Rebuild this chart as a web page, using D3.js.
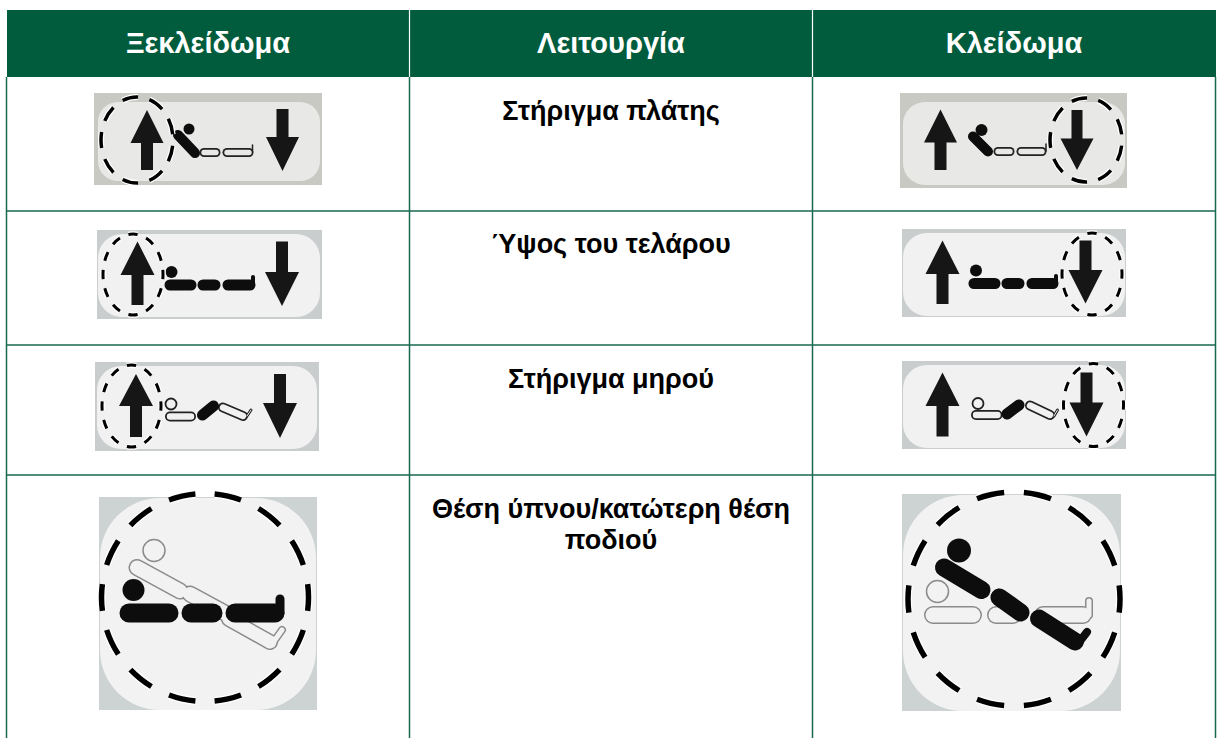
<!DOCTYPE html>
<html>
<head>
<meta charset="utf-8">
<script src="https://cdn.jsdelivr.net/npm/d3@7"></script>
<style>
    html, body { margin: 0; padding: 0; background: #fff; }
    svg { display: block; }
    text { font-family: "Liberation Sans", Arial, sans-serif; font-weight: bold; }
</style>
</head>
<body>
<div id="visualization"></div>
<script>
// table text
var headers = ["Ξεκλείδωμα", "Λειτουργία", "Κλείδωμα"];
var functionLines = [
    ["Στήριγμα πλάτης"],
    ["Ύψος του τελάρου"],
    ["Στήριγμα μηρού"],
    ["Θέση ύπνου/κατώτερη θέση", "ποδιού"]
];

var width = 1219, height = 738;
var green = "#005c3c", rule = "#17694f";
var rowEdges = [77, 211, 345, 475, 738];
var baselines = [120, 253, 388, 518];

var x = d3.scaleBand().domain(headers).range([6.5, 1215.5]);

var svg = d3.select("#visualization").append("svg")
    .attr("width", width)
    .attr("height", height);

// icons are a bit soft in the original scan
svg.append("defs").append("filter")
    .attr("id", "soft")
  .append("feGaussianBlur")
    .attr("stdDeviation", 0.45);

// header band
svg.append("rect")
    .attr("x", 7).attr("y", 10)
    .attr("width", 1209).attr("height", 67)
    .attr("fill", green);

svg.selectAll(".headsep")
    .data(headers.slice(1))
  .enter().append("line")
    .attr("x1", function(d) { return x(d); })
    .attr("x2", function(d) { return x(d); })
    .attr("y1", 10).attr("y2", 77)
    .attr("stroke", "#fff")
    .attr("stroke-width", 1.2);

svg.selectAll(".headtext")
    .data(headers)
  .enter().append("text")
    .attr("x", function(d) { return x(d) + x.bandwidth() / 2; })
    .attr("y", 53)
    .attr("text-anchor", "middle")
    .attr("font-size", 29)
    .attr("fill", "#fff")
    .text(function(d) { return d; });

// grid
var verticals = headers.map(function(d) { return x(d); }).concat([x.range()[1]]);
svg.selectAll(".vrule")
    .data(verticals)
  .enter().append("line")
    .attr("x1", function(d) { return d; })
    .attr("x2", function(d) { return d; })
    .attr("y1", 77).attr("y2", height)
    .attr("stroke", rule)
    .attr("stroke-width", 1.5);

svg.selectAll(".hrule")
    .data(rowEdges.slice(1, 4))
  .enter().append("line")
    .attr("x1", 6).attr("x2", 1216)
    .attr("y1", function(d) { return d; })
    .attr("y2", function(d) { return d; })
    .attr("stroke", rule)
    .attr("stroke-width", 1.5);

// middle column labels
functionLines.forEach(function(lines, i) {
    svg.selectAll(".label" + i)
        .data(lines)
      .enter().append("text")
        .attr("x", x(headers[1]) + x.bandwidth() / 2)
        .attr("y", function(d, j) { return baselines[i] + j * 31; })
        .attr("text-anchor", "middle")
        .attr("font-size", 27)
        .attr("fill", "#000")
        .text(function(d) { return d; });
});

// one bed pictogram per spec
var wideIcons = [
    {box: [94, 93, 228, 92], inner: [98, 102, 222, 79, 20], back: "#c9c9c3", face: "#e8e8e6", on: 0.58,
     ring: [137, 140, 36, 43, 9, 0.5, 3.5], up: [147, 110, 143, 170, 6], down: [282.5, 109, 137, 171, 6],
     arrowHalf: 16.5, head: [189, 129, 5.5, 1],
     bed: [[[[178, 135], [195, 153]], 10, 1], [[[204, 152.5], [216, 152.5]], 9, 0], [[[227, 152.5], [249, 152.5]], 9, 0], [[[252.5, 152], [252.5, 145]], 1.5, 2]]},
    {box: [97, 230, 225, 89], inner: [98, 234, 222, 83, 24], back: "#c9cdcd", face: "#f1f1f1", on: 0.5,
     ring: [133, 274.5, 30, 40.5, 12, 0, 3], up: [137.5, 241.5, 275, 305, 6], down: [282, 241.5, 272, 306, 6],
     arrowHalf: 17, head: [171.5, 272, 6, 1],
     bed: [[[[170, 285], [191, 285]], 11, 1], [[[203, 285], [215, 285]], 11, 1], [[[228, 285], [250, 285]], 11, 1], [[[253, 285], [253, 277]], 4, 1]]},
    {box: [95, 362, 224, 89], inner: [97, 366, 220, 83, 24], back: "#c9cdcd", face: "#f1f1f1", on: 0.5,
     ring: [131.5, 406, 29.5, 41, 12, 0, 3], up: [136, 374, 406, 437, 6], down: [280, 374, 403, 438, 6],
     arrowHalf: 17, head: [171, 404, 5.5, 0],
     bed: [[[[170, 416.5], [191, 416.5]], 10, 0], [[[202.5, 415], [213.5, 406]], 11, 1], [[[223, 407.5], [243, 416]], 10, 0], [[[247, 416], [251, 410]], 3, 0]]},
    {box: [900, 93, 227, 95], inner: [903, 102, 222, 83, 22], back: "#c9c9c3", face: "#e8e8e6", on: 0.58,
     ring: [1086, 140, 36, 42, 9, 0.5, 3.5], up: [940.5, 109.5, 142.5, 170, 6], down: [1077, 110, 138.5, 170, 5.5],
     arrowHalf: 16.5, head: [981.5, 130, 6, 1],
     bed: [[[[973, 136.5], [988, 151.5]], 10, 1], [[[998, 151.5], [1010, 151.5]], 9, 0], [[[1021, 151.5], [1042, 151.5]], 9, 0], [[[1046, 151], [1046, 144]], 1.5, 2]]},
    {box: [902, 229, 224, 88], inner: [903, 233, 222, 83, 24], back: "#c9cdcd", face: "#f1f1f1", on: 0.5,
     ring: [1092, 274, 30, 41, 12, 0, 3], up: [942.5, 240.5, 274, 304, 6], down: [1085.5, 240.5, 270, 303.5, 6],
     arrowHalf: 17, head: [976, 270.5, 6, 1],
     bed: [[[[974, 283.5], [995, 283.5]], 11, 1], [[[1007, 283.5], [1019, 283.5]], 11, 1], [[[1032, 283.5], [1053, 283.5]], 11, 1], [[[1056, 283.5], [1056, 276]], 4, 1]]},
    {box: [902, 361, 224, 88], inner: [903, 365, 222, 83, 24], back: "#c9cdcd", face: "#f1f1f1", on: 0.5,
     ring: [1093.5, 405, 30, 41.5, 12, 0, 3], up: [942.5, 372.5, 406, 436.5, 6], down: [1086.5, 372.5, 402.5, 436.5, 6],
     arrowHalf: 17, head: [978, 403.5, 5.5, 0],
     bed: [[[[976, 415], [997.5, 415]], 10, 0], [[[1007, 414], [1019, 405]], 11, 1], [[[1030, 405.5], [1050, 415]], 10, 0], [[[1054, 416], [1057.5, 410]], 3, 0]]}
];

var bigIcons = [
    {box: [99, 497, 218, 213], inner: [100, 498, 216, 212, 60], back: "#cdd2d2", face: "#f2f2f2", on: 0.58,
     ring: [205, 597.5, 103.5, 104, 14, 0, 5.5],
     heads: [[154, 550.5, 11, 0], [133.5, 590, 11, 1]],
     bed: [[[[137, 567.5], [180, 591]], 17, 0], [[[190, 594], [225, 613]], 17, 0], [[[229, 619], [270, 642]], 16, 0], [[[272, 644], [282, 630]], 8, 0],
           [[[129, 613], [169, 613]], 19, 1], [[[191, 613], [213, 613]], 19, 1], [[[235, 613], [275, 613]], 19, 1], [[[280, 613], [280, 599]], 9, 1]]},
    {box: [902, 494, 219, 217], inner: [903, 495, 217, 216, 60], back: "#cdd2d2", face: "#f2f2f2", on: 0.58,
     ring: [1014, 599, 106, 107, 14, 0, 5.5],
     heads: [[937.5, 591.5, 11, 0], [959, 550.5, 12, 1]],
     bed: [[[[933, 615], [973, 615]], 18, 0], [[[996, 615], [1013, 615]], 18, 0], [[[1043, 615], [1083, 615]], 18, 0], [[[1089, 615], [1089, 601]], 8, 0],
           [[[944, 567.5], [981.5, 590]], 18, 1], [[[999.5, 597.5], [1020.5, 612.5]], 18, 1], [[[1039, 618.5], [1075, 641.5]], 18, 1], [[[1078.5, 643], [1087, 632]], 8, 1]]}
];

var line = d3.line();

function drawFrame(g, d) {
    g.append("rect")
        .attr("x", d.box[0]).attr("y", d.box[1])
        .attr("width", d.box[2]).attr("height", d.box[3])
        .attr("fill", d.back);
    g.append("rect")
        .attr("x", d.inner[0]).attr("y", d.inner[1])
        .attr("width", d.inner[2]).attr("height", d.inner[3])
        .attr("rx", d.inner[4])
        .attr("fill", d.face);
}

function drawRing(g, d) {
    var r = d.ring, on = d.on;
    // white halo goes under the dashes
    [["#fff", r[6] + 2.5], ["#000", r[6]]].forEach(function(s) {
        g.append("ellipse")
            .attr("cx", r[0]).attr("cy", r[1])
            .attr("rx", r[2]).attr("ry", r[3])
            .attr("pathLength", r[4])
            .attr("fill", "none")
            .attr("stroke", s[0])
            .attr("stroke-width", s[1])
            .attr("stroke-dasharray", on + " " + (1 - on))
            .attr("stroke-dashoffset", on / 2 + r[5]);
    });
}

function drawBed(g, d, heads) {
    // state 1 solid, 0 outlined, 2 thin line
    var color = d.bigIcon ? "#8b8b8b" : "#222";
    var edge = d.bigIcon ? 1.5 : 1.8;
    g.selectAll(".outer")
        .data(d.bed.filter(function(s) { return s[2] !== 1; }))
      .enter().append("path")
        .attr("d", function(s) { return line(s[0]); })
        .attr("fill", "none")
        .attr("stroke-linecap", "round")
        .attr("stroke", color)
        .attr("stroke-width", function(s) { return s[1]; });
    g.selectAll(".hollow")
        .data(d.bed.filter(function(s) { return s[2] === 0; }))
      .enter().append("path")
        .attr("d", function(s) { return line(s[0]); })
        .attr("fill", "none")
        .attr("stroke-linecap", "round")
        .attr("stroke", d.face)
        .attr("stroke-width", function(s) { return s[1] - 2 * edge; });
    heads.forEach(function(h) {
        g.append("circle")
            .attr("cx", h[0]).attr("cy", h[1]).attr("r", h[2])
            .attr("fill", h[3] ? "#111" : d.face)
            .attr("stroke", h[3] ? "none" : color)
            .attr("stroke-width", edge);
    });
    g.selectAll(".solid")
        .data(d.bed.filter(function(s) { return s[2] === 1; }))
      .enter().append("path")
        .attr("d", function(s) { return line(s[0]); })
        .attr("fill", "none")
        .attr("stroke-linecap", "round")
        .attr("stroke", "#0a0a0a")
        .attr("stroke-width", function(s) { return s[1]; });
}

// a = [centre x, tip y, head base y, shaft end y, shaft half width]
function drawArrow(g, a, half) {
    g.append("path")
        .attr("d", line([
            [a[0], a[1]], [a[0] + half, a[2]], [a[0] + a[4], a[2]], [a[0] + a[4], a[3]],
            [a[0] - a[4], a[3]], [a[0] - a[4], a[2]], [a[0] - half, a[2]]
        ]) + "Z")
        .attr("fill", "#151515");
}

wideIcons.forEach(function(d) {
    var g = svg.append("g").attr("filter", "url(#soft)");
    var dn = d.down;
    drawFrame(g, d);
    drawBed(g, d, [d.head]);
    drawRing(g, d);
    drawArrow(g, d.up, d.arrowHalf);
    // down arrays run shaft top, head base, tip
    drawArrow(g, [dn[0], dn[3], dn[2], dn[1], dn[4]], d.arrowHalf);
});

bigIcons.forEach(function(d) {
    var g = svg.append("g").attr("filter", "url(#soft)");
    d.bigIcon = true;
    drawFrame(g, d);
    drawBed(g, d, d.heads);
    drawRing(g, d);
});
</script>
</body>
</html>
